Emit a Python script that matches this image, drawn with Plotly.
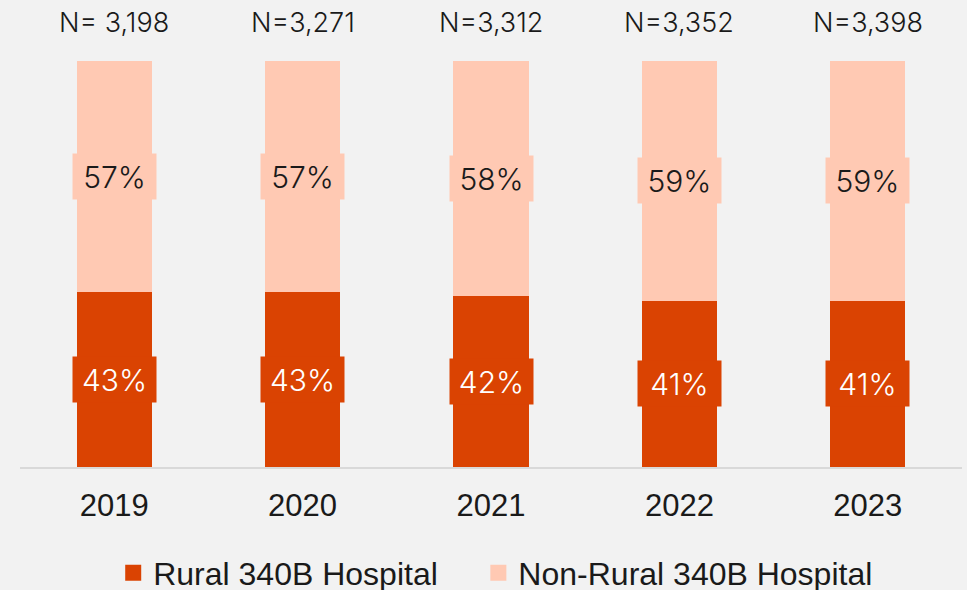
import plotly.graph_objects as go

years = ["2019", "2020", "2021", "2022", "2023"]
rural_pct = [43, 43, 42, 41, 41]
nonrural_pct = [57, 57, 58, 59, 59]
n_labels = ["N= 3,198", "N=3,271", "N=3,312", "N=3,352", "N=3,398"]

RURAL = "#DA4302"
NONRURAL = "#FFC9B3"
BG = "#F2F2F2"

fig = go.Figure()
fig.add_trace(go.Bar(x=years, y=rural_pct, marker=dict(color=RURAL, line=dict(width=0)),
                     showlegend=False, hoverinfo="skip"))
fig.add_trace(go.Bar(x=years, y=nonrural_pct, marker=dict(color=NONRURAL, line=dict(width=0)),
                     showlegend=False, hoverinfo="skip"))
# legend entries
fig.add_trace(go.Scatter(x=[None], y=[None], mode="markers",
                         name="Rural 340B Hospital" + "\u00a0" * 4,
                         marker=dict(symbol="square", size=16, color=RURAL)))
fig.add_trace(go.Scatter(x=[None], y=[None], mode="markers", name="Non-Rural 340B Hospital",
                         marker=dict(symbol="square", size=16, color=NONRURAL)))

pct_font = dict(family="Inter", size=30, weight=300)
for i, (r, nr, n) in enumerate(zip(rural_pct, nonrural_pct, n_labels)):
    fig.add_annotation(x=i, y=r / 2, text=f"{r}%", showarrow=False,
                       bgcolor=RURAL, width=76, height=38, borderpad=3.5,
                       font=dict(color="white", **pct_font))
    fig.add_annotation(x=i, y=r + nr / 2, text=f"{nr}%", showarrow=False,
                       bgcolor=NONRURAL, width=76, height=38, borderpad=3.5,
                       font=dict(color="#1a1a1a", **pct_font))
    fig.add_annotation(x=i, y=100, text=n, showarrow=False, yanchor="bottom", yshift=20,
                       font=dict(family="Inter", size=27, weight=300, color="#1a1a1a"))

fig.update_layout(
    width=967, height=590,
    margin=dict(l=20, r=5, t=61, b=123, autoexpand=False),
    paper_bgcolor=BG, plot_bgcolor=BG,
    barmode="stack", bargap=0.6,
    xaxis=dict(type="category", categoryorder="array", categoryarray=years,
               range=[-0.5, len(years) - 0.5],
               showgrid=False, showline=True, linecolor="#D9D9D9", linewidth=2,
               tickfont=dict(family="Liberation Sans, Arial", size=31, color="#1a1a1a"),
               ticks="", ticklabelstandoff=10, fixedrange=True),
    yaxis=dict(range=[0, 100], visible=False, fixedrange=True),
    legend=dict(orientation="h", x=0.505, xanchor="center", y=-0.261, yanchor="middle",
                traceorder="normal",
                font=dict(family="Liberation Sans, Arial", size=32, color="#1a1a1a"),
                bgcolor="rgba(0,0,0,0)"),
    showlegend=True,
)

fig.write_html("out.html", config={"displayModeBar": False},
               post_script="document.body.style.margin='0';")
